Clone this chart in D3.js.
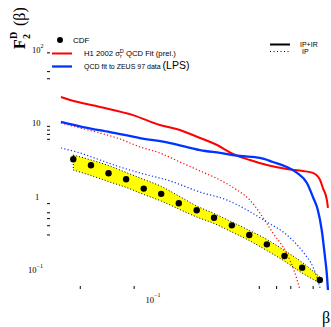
<!DOCTYPE html>
<html><head><meta charset="utf-8">
<script src="https://cdn.jsdelivr.net/npm/d3@7/dist/d3.min.js"></script>
<style>body{margin:0;background:#fff}svg{display:block}</style>
</head><body>
<script>
// ---- data ----
const cdfBeta = [0.0368,0.0462,0.0579,0.0726,0.0911,0.114,0.143,0.180,0.225,0.283,0.354,0.444,0.557,0.699,0.877];
const cdfF    = [3.16,2.62,2.04,1.69,1.26,1.07,0.796,0.639,0.507,0.399,0.295,0.220,0.153,0.106,0.072];
const bandHi  = [3.61,3.09,2.60,2.09,1.68,1.35,1.00,0.731,0.578,0.443,0.340,0.256,0.181,0.125,0.079];
const bandLo  = [2.26,1.90,1.57,1.31,1.05,0.855,0.665,0.518,0.423,0.324,0.248,0.181,0.130,0.0896,0.0655];

const h1Beta  = [0.0314,0.0353,0.0519,0.0793,0.112,0.145,0.188,0.234,0.287,0.357,0.444,0.574,0.707,0.803,0.880,0.913,0.961,0.974];
const h1Tot   = [22.2,20.2,16.3,12.6,9.25,7.91,6.15,4.94,3.73,3.09,2.64,2.33,2.19,2.06,1.65,1.28,0.88,0.687];
const h1PBeta = [0.0314,0.0401,0.0519,0.0671,0.0868,0.112,0.145,0.188,0.243,0.302,0.357,0.406,0.480,0.574,0.629,0.680];
const h1Pom   = [9.85,8.42,7.20,5.97,4.65,3.85,2.90,2.19,1.65,1.21,0.88,0.587,0.314,0.165,0.098,0.0526];

const lpsBeta  = [0.0314,0.0417,0.0590,0.0868,0.128,0.188,0.243,0.314,0.406,0.480,0.574,0.655,0.743,0.803,0.855,0.899,0.935,0.961,0.974];
const lpsTot   = [10.2,8.68,7.42,6.15,5.26,4.22,3.85,3.50,3.29,2.90,2.48,2.06,1.50,0.97,0.645,0.345,0.157,0.084,0.0526];
const lpsPBeta = [0.0314,0.0401,0.0519,0.0671,0.0868,0.128,0.188,0.266,0.344,0.444,0.574,0.707,0.803,0.855,0.880];
const lpsPom   = [4.50,3.85,3.09,2.48,2.06,1.60,1.13,0.88,0.645,0.443,0.295,0.173,0.108,0.072,0.056];

const yMajor = [0.1,1,10,100];
const yMajorLabels = [["10","-1"],["1",""],["10",""],["10","2"]];
const yMinor = [0.3,0.4,0.5,0.6,0.8,6,7,8,9,40,50,90];
const xMinor = [0.04,0.08,0.4,0.5,0.6,0.8];
const xMajor = [0.1];
const xMajorLabels = [["10","-1"]];

// ---- drawing ----
const W = 331, H = 327;
const svg = d3.select("body").append("svg").attr("width", W).attr("height", H);
const x = d3.scaleLog().domain([0.1, 1]).range([151, 330]);
const y = d3.scaleLog().domain([1, 10]).range([196, 122.5]);
const plotTop = 25, plotBottom = 290, plotLeft = 48, plotRight = 331;

svg.append("defs").append("clipPath").attr("id","clip")
  .append("rect").attr("x",plotLeft).attr("y",plotTop).attr("width",plotRight-plotLeft).attr("height",plotBottom-plotTop);

const g = svg.append("g").attr("clip-path","url(#clip)");

// yellow band
const bandData = cdfBeta.map((b,i)=>({b, hi:bandHi[i], lo:bandLo[i]}));
g.append("path").datum(bandData)
  .attr("fill","#ffff00")
  .attr("d", d3.area().x(d=>x(d.b)).y0(d=>y(d.lo)).y1(d=>y(d.hi)).curve(d3.curveMonotoneX));
["hi","lo"].forEach(k=>{
  g.append("path").datum(bandData).attr("fill","none").attr("stroke","#000")
    .attr("stroke-width",1).attr("stroke-dasharray","1,2")
    .attr("d", d3.line().x(d=>x(d.b)).y(d=>y(d[k])).curve(d3.curveMonotoneX));
});
g.append("path").attr("fill","none").attr("stroke","#000").attr("stroke-width",1).attr("stroke-dasharray","1,2")
  .attr("d", `M${x(cdfBeta[0])},${y(bandHi[0])}V${y(bandLo[0])}`);

function curve(bs, fs, color, width, dash){
  const pts = bs.map((b,i)=>[b,fs[i]]);
  const p = g.append("path").datum(pts).attr("fill","none").attr("stroke",color)
    .attr("stroke-width",width)
    .attr("d", d3.line().x(d=>x(d[0])).y(d=>y(d[1])).curve(d3.curveMonotoneX));
  if (dash) p.attr("stroke-dasharray", dash);
}
curve(h1PBeta, h1Pom, "#ff0000", 1.2, "1.2,2.2");
curve(lpsPBeta, lpsPom, "#0033ff", 1.2, "1.2,2.2");
curve(h1Beta, h1Tot, "#ff0000", 2, null);
curve(lpsBeta, lpsTot, "#0033ff", 2.3, null);

// CDF points
g.selectAll("circle.cdf").data(cdfBeta).join("circle").attr("class","cdf")
  .attr("cx",d=>x(d)).attr("cy",(d,i)=>y(cdfF[i])).attr("r",3.2).attr("fill","#000");

// ---- axes ----
const serif = "Liberation Serif, Times New Roman, serif";
const sans = "Liberation Sans, Arial, sans-serif";

const yMinorAxis = svg.append("g").attr("transform",`translate(${plotLeft-1},0)`)
  .call(d3.axisLeft(y).tickValues(yMinor).tickSize(-3).tickFormat(""));
yMinorAxis.select(".domain").remove();
yMinorAxis.selectAll("line").attr("stroke","#000").attr("stroke-width",1);

const yMajAxis = svg.append("g").attr("transform",`translate(${plotLeft-1},0)`)
  .call(d3.axisLeft(y).tickValues(yMajor).tickSize(0).tickFormat(""));
yMajAxis.select(".domain").remove();
yMajAxis.selectAll(".tick").each(function(d,i){
  const lab = yMajorLabels[i];
  const t = d3.select(this).append("text").attr("fill","#000").attr("text-anchor","start")
    .attr("font-family",serif).attr("font-size",8.5).attr("dy",3)
    .attr("x", lab[0]==="1" ? -12 : (lab[1]==="-1" ? -19 : -15));
  t.append("tspan").text(lab[0]);
  if (lab[1]) t.append("tspan").attr("font-size",6).attr("dy",-5).text(lab[1]==="-1" ? "\u22121" : lab[1]);
});

const xMinorAxis = svg.append("g").attr("transform",`translate(0,${plotBottom-1})`)
  .call(d3.axisBottom(x).tickValues(xMinor).tickSize(-3).tickFormat(""));
xMinorAxis.select(".domain").remove();
xMinorAxis.selectAll("line").attr("stroke","#000").attr("stroke-width",1);

const xMajAxis = svg.append("g").attr("transform",`translate(0,${plotBottom})`)
  .call(d3.axisBottom(x).tickValues(xMajor).tickSize(0).tickFormat(""));
xMajAxis.select(".domain").remove();
xMajAxis.selectAll(".tick").each(function(d,i){
  const lab = xMajorLabels[i];
  const t = d3.select(this).append("text").attr("fill","#000").attr("text-anchor","start")
    .attr("font-family",serif).attr("font-size",8.5).attr("x",-6).attr("y",13);
  t.append("tspan").text(lab[0]);
  t.append("tspan").attr("font-size",6).attr("dy",-6).text("\u22121");
});

// axis titles
svg.append("text").attr("x",322).attr("y",323).attr("font-family",serif).attr("font-size",16).text("β");
const yt = svg.append("text").attr("transform","translate(25,49) rotate(-90)")
  .attr("font-family",serif).attr("font-size",16).attr("font-weight","bold");
yt.append("tspan").attr("x",0).attr("y",0).text("F");
yt.append("tspan").attr("x",10).attr("y",-8).attr("font-size",10).text("D");
yt.append("tspan").attr("x",10).attr("y",5).attr("font-size",10).text("2");
yt.append("tspan").attr("x",23).attr("y",0).attr("font-weight","normal").text("(β)");

// ---- legend ----
svg.append("circle").attr("cx",60).attr("cy",40).attr("r",3).attr("fill","#000");
svg.append("text").attr("x",73).attr("y",43).attr("font-family",sans).attr("font-size",8).text("CDF");
svg.append("line").attr("x1",52).attr("x2",72).attr("y1",53.5).attr("y2",53.5).attr("stroke","#ff0000").attr("stroke-width",2);
const lt1 = svg.append("text").attr("x",84).attr("y",56).attr("font-family",sans).attr("font-size",7.7);
lt1.append("tspan").text("H1 2002 σ");
lt1.append("tspan").attr("font-size",5.5).attr("dy",2).text("r");
lt1.append("tspan").attr("font-size",5.5).attr("dx",-2).attr("dy",-5).text("D");
lt1.append("tspan").attr("dy",3).text(" QCD Fit (prel.)");
svg.append("line").attr("x1",52).attr("x2",72).attr("y1",66.5).attr("y2",66.5).attr("stroke","#0033ff").attr("stroke-width",2.3);
const lt2 = svg.append("text").attr("x",84).attr("y",69).attr("font-family",sans).attr("font-size",7);
lt2.append("tspan").text("QCD fit to ZEUS 97 data ");
lt2.append("tspan").attr("font-size",10.5).text("(LPS)");

svg.append("line").attr("x1",270).attr("x2",290).attr("y1",44.5).attr("y2",44.5).attr("stroke","#000").attr("stroke-width",2);
svg.append("text").attr("x",300).attr("y",47).attr("font-family",sans).attr("font-size",7).text("IP+IR");
svg.append("line").attr("x1",270).attr("x2",290).attr("y1",51.5).attr("y2",51.5).attr("stroke","#000").attr("stroke-width",1).attr("stroke-dasharray","1,2.5");
svg.append("text").attr("x",302).attr("y",54).attr("font-family",sans).attr("font-size",7).text("IP");
</script>
</body></html>
